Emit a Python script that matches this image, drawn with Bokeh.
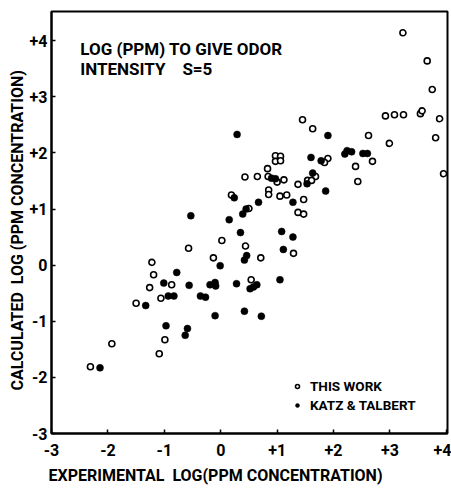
from bokeh.plotting import figure
from bokeh.models import Range1d, FixedTicker, Title, Label
from bokeh.embed import file_html
from bokeh.resources import INLINE

# "THIS WORK" (open circles)
this_x = [3.23, 3.66, 3.75, 2.92, 3.08, 3.24, 3.54, 3.57, 3.88, 3.81, 2.99, 3.95,
          1.45, 1.63, 2.62, 2.39, 2.69, 2.43, 1.90, 0.97, 1.06, 0.97, 1.06, 0.83,
          0.43, 0.65, 0.84, 1.00, 1.12, 1.37, 0.85, 0.85, 1.05, 1.17, 0.19, 0.50,
          1.37, 1.47, 1.47, 1.68, 1.54, 1.61, 0.02, 0.44, -0.57, 1.29, -1.22, -0.13,
          0.71, -1.19, 0.54, -0.87, -1.26, -1.06, -1.50, -0.99, -1.93, -1.09, -2.31, 1.84]
this_y = [4.14, 3.64, 3.13, 2.66, 2.68, 2.68, 2.70, 2.75, 2.61, 2.27, 2.17, 1.63,
          2.59, 2.43, 2.31, 1.76, 1.85, 1.49, 1.90, 1.95, 1.94, 1.85, 1.86, 1.72,
          1.57, 1.58, 1.58, 1.48, 1.52, 1.44, 1.34, 1.26, 1.23, 1.25, 1.25, 1.01,
          0.94, 0.91, 1.17, 1.58, 1.51, 1.51, 0.44, 0.34, 0.30, 0.21, 0.05, 0.13,
          0.13, -0.17, -0.26, -0.35, -0.40, -0.59, -0.68, -1.33, -1.40, -1.58, -1.81, 1.83]

# "KATZ & TALBERT" (filled circles)
katz_x = [1.90, 0.29, 2.20, 2.24, 2.32, 2.52, 2.60, 1.60, 1.78, 1.86, 0.90, 0.97,
          1.28, 0.67, 0.24, 0.45, 0.39, 0.15, -0.53, 1.63, 1.53, 0.35, 1.08, 1.28,
          1.11, 0.46, 0.42, -0.01, -0.78, -1.01, -0.56, -0.19, -0.10, -0.09, 0.28, 0.52,
          0.58, 0.64, 1.05, -0.93, -0.83, -0.36, -0.27, -1.33, -0.10, 0.42, 0.72, -0.97,
          -0.59, -0.63, -2.14]
katz_y = [2.31, 2.33, 1.98, 2.04, 2.02, 1.99, 1.99, 1.92, 1.86, 1.32, 1.55, 1.54,
          1.12, 1.12, 1.20, 1.00, 0.91, 0.81, 0.88, 1.64, 1.45, 0.58, 0.60, 0.50,
          0.28, 0.17, 0.09, -0.01, -0.13, -0.32, -0.36, -0.35, -0.31, -0.37, -0.33, -0.42,
          -0.39, -0.35, -0.26, -0.55, -0.55, -0.55, -0.57, -0.72, -0.90, -0.82, -0.91, -1.08,
          -1.13, -1.25, -1.83]

x_ticks = [-3, -2, -1, 0, 1, 2, 3, 4]
x_tick_labels = ["-3", "-2", "-1", "0", "+1", "+2", "+3", "+4"]
y_ticks = [-3, -2, -1, 0, 1, 2, 3, 4]
y_tick_labels = ["-3", "-2", "-1", "0", "+1", "+2", "+3", "+4"]

series_labels = ["THIS WORK", "KATZ & TALBERT"]
title_lines = ["LOG (PPM) TO GIVE ODOR", "INTENSITY\u00a0\u00a0\u00a0\u00a0S=5"]
x_title = "EXPERIMENTAL\u00a0\u00a0LOG(PPM CONCENTRATION)"
y_title = "CALCULATED\u00a0\u00a0LOG (PPM CONCENTRATION)"

FONT = "Roboto"
INK = "black"

p = figure(width=451, height=492, x_range=Range1d(-3, 4.02), y_range=Range1d(-3, 4.52),
           output_backend="svg", toolbar_location=None,
           min_border_left=51, min_border_right=4, min_border_top=11, min_border_bottom=59)
p.background_fill_color = "white"
p.border_fill_color = "white"
p.grid.visible = False
p.outline_line_color = INK
p.outline_line_width = 2

for ax, ticks, labels in ((p.xaxis[0], x_ticks, x_tick_labels), (p.yaxis[0], y_ticks, y_tick_labels)):
    ax.ticker = FixedTicker(ticks=ticks)
    ax.major_label_overrides = {t: l for t, l in zip(ticks, labels)}
    ax.major_tick_in = 4
    ax.major_tick_out = 0
    ax.minor_tick_in = 0
    ax.minor_tick_out = 0
    ax.major_tick_line_width = 1.5
    ax.axis_line_width = 2
    ax.axis_line_color = INK
    ax.major_tick_line_color = INK
    ax.major_label_text_font = FONT
    ax.major_label_text_font_style = "bold"
    ax.major_label_text_font_size = "16px"
    ax.major_label_text_color = INK
p.xaxis.major_label_standoff = 10
p.yaxis.major_label_standoff = 4

p.scatter(this_x, this_y, marker="circle", size=6, fill_color="white",
          line_color=INK, line_width=1.6, legend_label=series_labels[0])
p.scatter(katz_x, katz_y, marker="circle", size=7, fill_color=INK,
          line_color=INK, line_width=0.5, legend_label=series_labels[1])

leg = p.legend[0]
leg.location = (241, 20)
leg.border_line_color = None
leg.background_fill_alpha = 0
leg.padding = 0
leg.margin = 0
leg.spacing = 3
leg.glyph_width = 10
leg.glyph_height = 16
leg.label_height = 16
leg.label_standoff = 8
leg.label_text_font = FONT
leg.label_text_font_style = "bold"
leg.label_text_font_size = "13.5px"
leg.label_text_color = INK

l1 = Label(x=-2.49, y=3.86, text=title_lines[0], text_font=FONT, text_font_style="bold",
           text_font_size="17px", text_baseline="alphabetic", text_color=INK)
l2 = Label(x=-2.49, y=3.50, text=title_lines[1], text_font=FONT, text_font_style="bold",
           text_font_size="17px", text_baseline="alphabetic", text_color=INK)
p.add_layout(l1)
p.add_layout(l2)

tx = Title(text=x_title, align="left", offset=-3, standoff=11, text_color=INK,
           text_font=FONT, text_font_style="bold", text_font_size="16px")
p.add_layout(tx, "below")
ty = Title(text=y_title, align="left", offset=43, standoff=0, text_color=INK,
           text_font=FONT, text_font_style="bold", text_font_size="16px")
p.add_layout(ty, "left")

open("out.html", "w").write(file_html(p, INLINE))
